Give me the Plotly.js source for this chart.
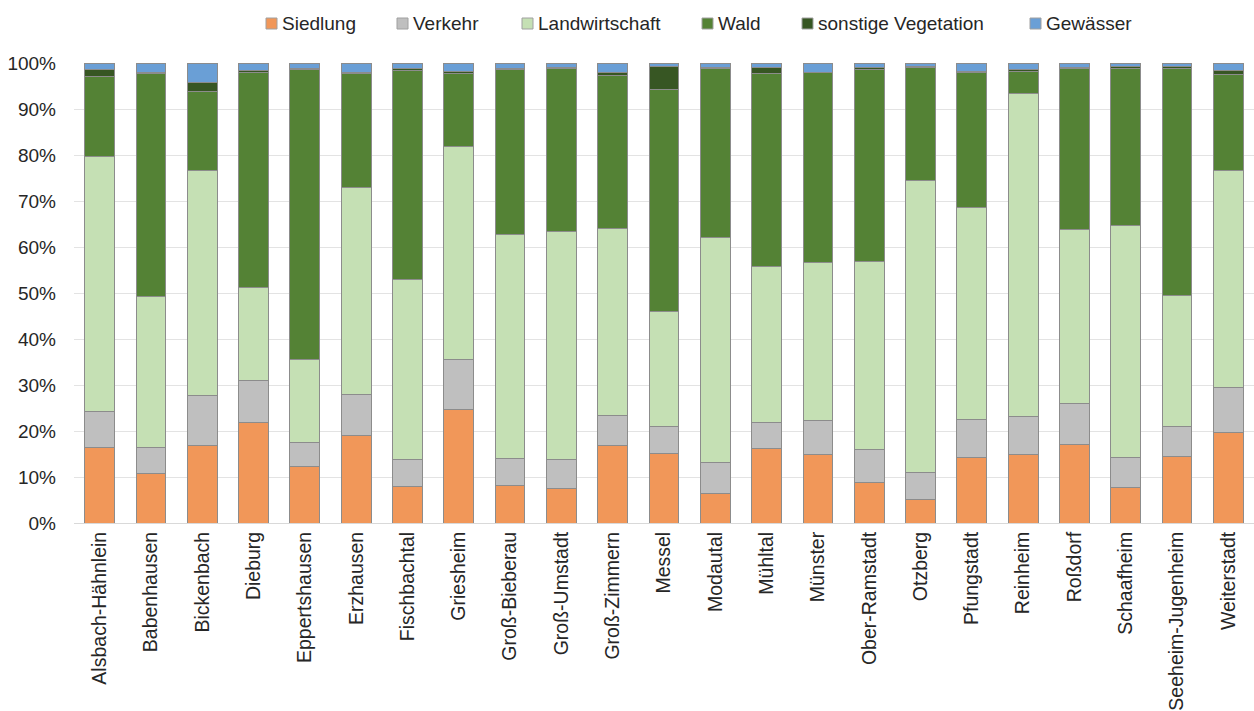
<!DOCTYPE html>
<html>
<head>
<meta charset="utf-8">
<script src="https://cdn.plot.ly/plotly-3.0.1.min.js"></script>
<style>html,body{margin:0;padding:0;background:#fff;}#chart{width:1254px;height:711px;}</style>
</head>
<body>
<div id="chart"></div>
<script>
const categories = ["Alsbach-Hähnlein","Babenhausen","Bickenbach","Dieburg","Eppertshausen","Erzhausen","Fischbachtal","Griesheim","Groß-Bieberau","Groß-Umstadt","Groß-Zimmern","Messel","Modautal","Mühltal","Münster","Ober-Ramstadt","Otzberg","Pfungstadt","Reinheim","Roßdorf","Schaafheim","Seeheim-Jugenheim","Weiterstadt"];
const siedlung = [16.4,10.7,16.9,21.9,12.2,19.0,8.0,24.7,8.1,7.5,16.9,15.2,6.5,16.3,14.8,8.9,5.2,14.3,14.8,17.1,7.7,14.5,19.7];
const verkehr = [7.9,5.7,10.8,9.1,5.4,8.9,5.8,10.9,5.9,6.2,6.4,5.7,6.7,5.5,7.4,7.0,5.7,8.2,8.4,8.9,6.6,6.4,9.8];
const landwirtschaft = [55.4,32.8,48.9,20.2,18.0,45.0,39.2,46.3,48.7,49.7,40.7,25.0,48.9,33.9,34.4,41.0,63.6,46.0,70.1,37.7,50.4,28.5,47.1];
const wald = [17.4,48.5,17.3,46.8,63.0,24.8,45.4,15.8,35.8,35.4,33.3,48.3,36.7,42.0,41.3,41.6,24.6,29.4,4.9,35.0,34.1,49.4,20.9];
const sonstigeVegetation = [1.4,0.3,1.9,0.3,0.2,0.3,0.4,0.5,0.2,0.3,0.7,5.1,0.3,1.4,0.1,0.6,0.2,0.2,0.3,0.4,0.5,0.5,0.9];
const gewaesser = [1.5,2.0,4.2,1.7,1.2,2.0,1.2,1.8,1.3,0.9,2.0,0.7,0.9,0.9,2.0,0.9,0.7,1.9,1.5,0.9,0.7,0.7,1.6];
const yTickVals = [0,10,20,30,40,50,60,70,80,90,100];
const yTickText = ["0%","10%","20%","30%","40%","50%","60%","70%","80%","90%","100%"];

const seriesNames = ["Siedlung","Verkehr","Landwirtschaft","Wald","sonstige Vegetation","Gewässer"];
const seriesData = [siedlung, verkehr, landwirtschaft, wald, sonstigeVegetation, gewaesser];
const colors = ["#F19759","#BFBFBF","#C5E0B4","#548235","#375623","#6A9FD6"];

// Legend layout (pixel positions of the legend entries, left edge of swatch)
const legendSwatchX = [266, 397, 522, 702, 802, 1030];

const W = 1254, H = 711, ML = 74, MR = 0, MT = 63, MB = 188;
const PW = W - ML - MR, PH = H - MT - MB;
const px = x => (x - ML) / PW;
const py = y => (H - MB - y) / PH;

const traces = seriesNames.map((n, i) => ({
  type: "bar",
  name: n,
  x: categories,
  y: seriesData[i],
  marker: {color: colors[i], line: {color: "#8C8C8C", width: 1}},
  hoverinfo: "x+y+name"
}));

const font = "Liberation Sans, Arial, sans-serif";
const shapes = [], annotations = [];
seriesNames.forEach((n, i) => {
  const x0 = legendSwatchX[i];
  shapes.push({type: "rect", xref: "paper", yref: "paper",
    x0: px(x0), x1: px(x0 + 11), y0: py(29), y1: py(18),
    fillcolor: colors[i], line: {color: "#A0A0A0", width: 1}});
  annotations.push({xref: "paper", yref: "paper", x: px(x0 + 14), y: py(24),
    xanchor: "left", yanchor: "middle", showarrow: false, text: n,
    font: {family: font, size: 19, color: "#262626"}});
});

const layout = {
  width: W, height: H,
  margin: {l: ML, r: MR, t: MT, b: MB},
  barmode: "stack",
  bargap: 0.42,
  paper_bgcolor: "#fff", plot_bgcolor: "#fff",
  font: {family: font, size: 19, color: "#262626"},
  showlegend: false,
  shapes: shapes,
  annotations: annotations,
  xaxis: {type: "category", tickangle: -90, showgrid: false, showline: true, linecolor: "#D9D9D9", linewidth: 1,
          ticks: "", tickfont: {family: font, size: 19.5, color: "#262626"}, automargin: false},
  yaxis: {range: [0, 100], tickvals: yTickVals, ticktext: yTickText, showgrid: true, gridcolor: "#E3E3E3", gridwidth: 1,
          zeroline: false, showline: false, ticks: "", ticklabelstandoff: 17,
          tickfont: {family: font, size: 19, color: "#262626"}, automargin: false}
};

Plotly.newPlot("chart", traces, layout, {displayModeBar: false, responsive: false});
</script>
</body>
</html>
